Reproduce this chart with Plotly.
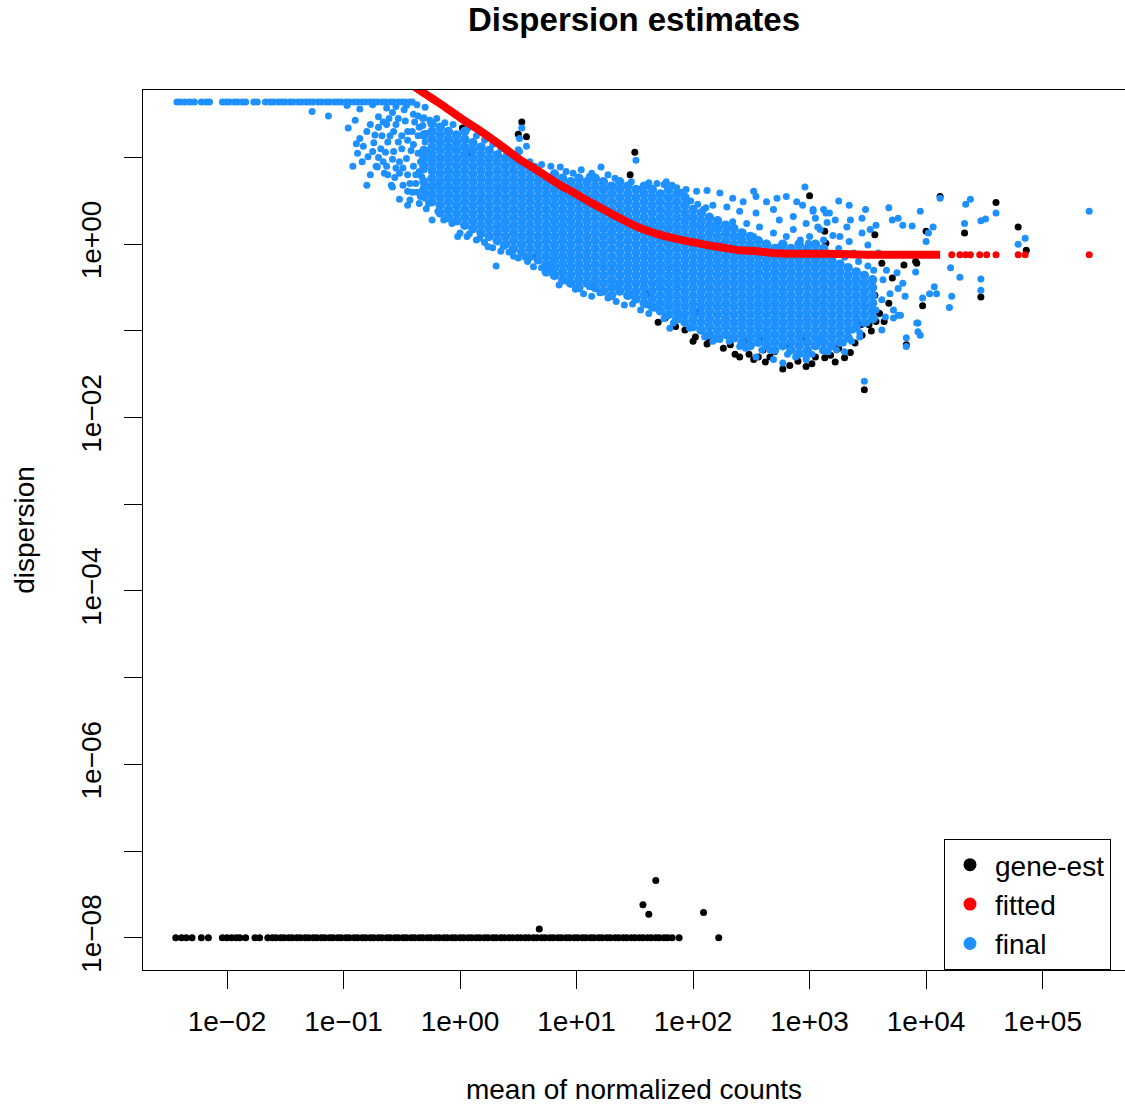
import numpy as np
import plotly.graph_objects as go

# ---------------- data (log10 of mean of normalized counts, log10 of dispersion) ----------------
# tick positions / labels
x_tick_vals = [1e-2, 1e-1, 1e0, 1e1, 1e2, 1e3, 1e4, 1e5]
x_tick_text = ["1e\u221202", "1e\u221201", "1e+00", "1e+01", "1e+02", "1e+03", "1e+04", "1e+05"]
y_tick_vals = [1e1, 1e0, 1e-1, 1e-2, 1e-3, 1e-4, 1e-5, 1e-6, 1e-7, 1e-8]
y_tick_text = ["", "1e+00", "", "1e\u221202", "", "1e\u221204", "", "1e\u221206", "", "1e\u221208"]

# gene-est: genes sitting at the lower dispersion bound (1e-08)
geneest_floor_mean_log10 = [
    -2.44, -2.39, -2.35, -2.30, -2.22, -2.16, -2.04, -2.00, -1.96, -1.92, -1.89, -1.84, -1.76, -1.72,
    -1.65, -1.61, -1.58, -1.54, -1.51, -1.47, -1.44, -1.40, -1.37, -1.33, -1.30, -1.26, -1.23, -1.19,
    -1.16, -1.12, -1.09, -1.05, -1.02, -0.98, -0.95, -0.91, -0.88, -0.84, -0.81, -0.77, -0.74, -0.70,
    -0.67, -0.63, -0.60, -0.56, -0.53, -0.49, -0.46, -0.42, -0.39, -0.35, -0.32, -0.28, -0.25, -0.21,
    -0.18, -0.14, -0.11, -0.07, -0.04, 0.00, 0.03, 0.07, 0.10, 0.14, 0.17, 0.21, 0.24, 0.28, 0.31,
    0.35, 0.38, 0.42, 0.45, 0.49, 0.52, 0.56, 0.59, 0.63, 0.66, 0.70, 0.73, 0.77, 0.80, 0.84, 0.87,
    0.91, 0.94, 0.98, 1.01, 1.05, 1.08, 1.12, 1.15, 1.19, 1.22, 1.26, 1.29, 1.33, 1.36, 1.40, 1.43,
    1.47, 1.50, 1.54, 1.57, 1.61, 1.64, 1.68, 1.71, 1.75, 1.78, 1.82, 1.88, 2.22,
]
geneest_floor_disp_log10 = [
    -8.0, -8.0, -8.0, -8.0, -8.0, -8.0, -8.0, -8.0, -8.0, -8.0, -8.0, -8.0, -8.0, -8.0,
    -8.0, -8.0, -8.0, -8.0, -8.0, -8.0, -8.0, -8.0, -8.0, -8.0, -8.0, -8.0, -8.0, -8.0,
    -8.0, -8.0, -8.0, -8.0, -8.0, -8.0, -8.0, -8.0, -8.0, -8.0, -8.0, -8.0, -8.0, -8.0,
    -8.0, -8.0, -8.0, -8.0, -8.0, -8.0, -8.0, -8.0, -8.0, -8.0, -8.0, -8.0, -8.0, -8.0,
    -8.0, -8.0, -8.0, -8.0, -8.0, -8.0, -8.0, -8.0, -8.0, -8.0, -8.0, -8.0, -8.0, -8.0, -8.0,
    -8.0, -8.0, -8.0, -8.0, -8.0, -8.0, -8.0, -8.0, -8.0, -8.0, -8.0, -8.0, -8.0, -8.0, -8.0, -8.0,
    -8.0, -8.0, -8.0, -8.0, -8.0, -8.0, -8.0, -8.0, -8.0, -8.0, -8.0, -8.0, -8.0, -8.0, -8.0, -8.0,
    -8.0, -8.0, -8.0, -8.0, -8.0, -8.0, -8.0, -8.0, -8.0, -8.0, -8.0, -8.0, -8.0,
]

# gene-est: other visible gene-wise estimates (mean, dispersion)
geneest_other_log10 = [
    (0.68, -7.90), (1.57, -7.62), (1.62, -7.73), (1.68, -7.34), (2.09, -7.71),
    (2.02, -1.07), (2.36, -1.27), (2.48, -1.27), (2.56, -1.30), (2.77, -1.44), (2.97, -1.41),
    (3.13, -1.31), (3.30, -1.31), (3.47, -1.68), (2.22, -1.08), (2.70, -1.24), (2.94, -1.08),
    (3.08, -1.12), (3.25, -1.20), (3.39, -1.14), (3.44, -0.93), (3.51, -0.93), (3.57, -0.89),
    (3.64, -0.89), (3.83, -1.16), (3.56, -0.59), (3.71, -0.39), (3.62, -0.22), (3.92, -0.22),
    (3.81, -0.24), (3.97, -0.71), (4.47, -0.61), (4.33, 0.13), (4.79, 0.20), (4.86, -0.07),
    (4.60, 0.48), (3.00, 0.56), (4.12, 0.55), (4.00, 0.15), (3.56, 0.11), (3.91, -0.20),
    (1.50, 1.06), (0.66, -0.13), (2.02, -0.78), (1.61, -0.58), (1.44, -0.50), (2.46, -1.12),
    (2.83, -1.16), (2.57, -1.10), (2.32, -1.16), (2.14, -1.10), (1.93, -0.99), (1.76, -0.85),
    (0.53, 1.41), (0.50, 1.27), (0.57, 1.24), (0.09, 1.05), (0.02, 1.34), (1.46, 0.80),
    (1.61, 0.68), (3.13, 0.15), (3.14, 0.01),
    (2.26, -1.20), (2.40, -1.30), (2.52, -1.33), (2.62, -1.36), (2.66, -1.30), (2.83, -1.40),
    (2.90, -1.35), (3.02, -1.38), (3.05, -1.30), (3.18, -1.28), (3.22, -1.36), (3.35, -1.25),
    (2.60, -1.22), (2.12, -1.15), (2.00, -1.12), (1.85, -0.95), (1.70, -0.90), (3.45, -1.05),
    (3.53, -1.00), (3.60, -0.80), (3.68, -0.68),
]

# final: genes at the upper dispersion bound
final_top_mean_log10 = [
    -2.43, -2.40, -2.36, -2.32, -2.28, -2.22, -2.18, -2.15, -2.04, -2.01, -1.98, -1.94, -1.91,
    -1.87, -1.84, -1.77, -1.74, -1.67, -1.63, -1.60, -1.56, -1.53, -1.50, -1.46, -1.43, -1.39,
    -1.36, -1.32, -1.29, -1.26, -1.22, -1.19, -1.15, -1.12, -1.08, -1.05, -1.02, -0.98, -0.95,
    -0.91, -0.88, -0.84, -0.81, -0.77, -0.74, -0.71, -0.67, -0.64, -0.60, -0.57, -0.53, -0.50,
    -0.47, -0.43, -0.41,
]
final_top_disp_log10 = [
    1.64, 1.64, 1.64, 1.64, 1.64, 1.64, 1.64, 1.64, 1.64, 1.64, 1.64, 1.64, 1.64,
    1.64, 1.64, 1.64, 1.64, 1.64, 1.64, 1.64, 1.64, 1.64, 1.64, 1.64, 1.64, 1.64,
    1.64, 1.64, 1.64, 1.64, 1.64, 1.64, 1.64, 1.64, 1.64, 1.64, 1.64, 1.64, 1.64,
    1.64, 1.64, 1.64, 1.64, 1.64, 1.64, 1.64, 1.64, 1.64, 1.64, 1.64, 1.64, 1.64,
    1.64, 1.64, 1.64,
]

# final: dense part of the cloud, read column by column (mean, [dispersions])
final_core_log10 = [
    (-0.31, [1.26, 1.08, 0.99, 0.90, 0.72, 0.63]),
    (-0.24, [1.39, 1.30, 1.21, 1.12, 1.03, 0.94, 0.85, 0.76, 0.67, 0.58, 0.49]),
    (-0.17, [1.35, 1.26, 1.17, 1.08, 0.99, 0.90, 0.81, 0.72, 0.63, 0.54, 0.45, 0.36]),
    (-0.10, [1.30, 1.21, 1.12, 1.03, 0.94, 0.85, 0.76, 0.67, 0.58, 0.49, 0.40, 0.31]),
    (-0.03, [1.26, 1.17, 1.08, 0.99, 0.90, 0.81, 0.72, 0.63, 0.54, 0.45, 0.36, 0.27]),
    (0.04, [1.30, 1.21, 1.12, 1.03, 0.94, 0.85, 0.76, 0.67, 0.58, 0.49, 0.40, 0.31, 0.22]),
    (0.11, [1.17, 1.08, 0.99, 0.90, 0.81, 0.72, 0.63, 0.54, 0.45, 0.36, 0.27, 0.18]),
    (0.18, [1.12, 1.03, 0.94, 0.85, 0.76, 0.67, 0.58, 0.49, 0.40, 0.31, 0.22, 0.13]),
    (0.25, [1.08, 0.99, 0.90, 0.81, 0.72, 0.63, 0.54, 0.45, 0.36, 0.27, 0.18, 0.09]),
    (0.32, [1.03, 0.94, 0.85, 0.76, 0.67, 0.58, 0.49, 0.40, 0.31, 0.22, 0.13, 0.04]),
    (0.39, [0.99, 0.90, 0.81, 0.72, 0.63, 0.54, 0.45, 0.36, 0.27, 0.18, 0.09, 0.00]),
    (0.46, [0.94, 0.85, 0.76, 0.67, 0.58, 0.49, 0.40, 0.31, 0.22, 0.13, 0.04, -0.05]),
    (0.53, [0.90, 0.81, 0.72, 0.63, 0.54, 0.45, 0.36, 0.27, 0.18, 0.09, 0.00, -0.09]),
    (0.60, [0.85, 0.76, 0.67, 0.58, 0.49, 0.40, 0.31, 0.22, 0.13, 0.04, -0.05, -0.14]),
    (0.67, [0.81, 0.72, 0.63, 0.54, 0.45, 0.36, 0.27, 0.18, 0.09, 0.00, -0.09, -0.18]),
    (0.74, [0.76, 0.67, 0.58, 0.49, 0.40, 0.31, 0.22, 0.13, 0.04, -0.05, -0.14, -0.23, -0.32]),
    (0.81, [0.81, 0.72, 0.63, 0.54, 0.45, 0.36, 0.27, 0.18, 0.09, 0.00, -0.09, -0.18, -0.27, -0.36]),
    (0.88, [0.76, 0.67, 0.58, 0.49, 0.40, 0.31, 0.22, 0.13, 0.04, -0.05, -0.14, -0.23, -0.32, -0.41]),
    (0.95, [0.72, 0.63, 0.54, 0.45, 0.36, 0.27, 0.18, 0.09, 0.00, -0.09, -0.18, -0.27, -0.36, -0.45]),
    (1.02, [0.76, 0.67, 0.58, 0.49, 0.40, 0.31, 0.22, 0.13, 0.04, -0.05, -0.14, -0.23, -0.32, -0.41, -0.50]),
    (1.09, [0.72, 0.63, 0.54, 0.45, 0.36, 0.27, 0.18, 0.09, 0.00, -0.09, -0.18, -0.27, -0.36, -0.45]),
    (1.16, [0.76, 0.67, 0.58, 0.49, 0.40, 0.31, 0.22, 0.13, 0.04, -0.05, -0.14, -0.23, -0.32, -0.41, -0.50]),
    (1.23, [0.72, 0.63, 0.54, 0.45, 0.36, 0.27, 0.18, 0.09, 0.00, -0.09, -0.18, -0.27, -0.36, -0.45, -0.54]),
    (1.30, [0.67, 0.58, 0.49, 0.40, 0.31, 0.22, 0.13, 0.04, -0.05, -0.14, -0.23, -0.32, -0.41, -0.50, -0.59]),
    (1.37, [0.72, 0.63, 0.54, 0.45, 0.36, 0.27, 0.18, 0.09, 0.00, -0.09, -0.18, -0.27, -0.36, -0.45, -0.54]),
    (1.44, [0.67, 0.58, 0.49, 0.40, 0.31, 0.22, 0.13, 0.04, -0.05, -0.14, -0.23, -0.32, -0.41, -0.50, -0.59]),
    (1.51, [0.63, 0.54, 0.45, 0.36, 0.27, 0.18, 0.09, 0.00, -0.09, -0.18, -0.27, -0.36, -0.45, -0.54, -0.63]),
    (1.58, [0.67, 0.58, 0.49, 0.40, 0.31, 0.22, 0.13, 0.04, -0.05, -0.14, -0.23, -0.32, -0.41, -0.50, -0.59, -0.68]),
    (1.65, [0.63, 0.54, 0.45, 0.36, 0.27, 0.18, 0.09, 0.00, -0.09, -0.18, -0.27, -0.36, -0.45, -0.54, -0.63, -0.72]),
    (1.72, [0.58, 0.49, 0.40, 0.31, 0.22, 0.13, 0.04, -0.05, -0.14, -0.23, -0.32, -0.41, -0.50, -0.59, -0.68, -0.77]),
    (1.79, [0.63, 0.54, 0.45, 0.36, 0.27, 0.18, 0.09, 0.00, -0.09, -0.18, -0.27, -0.36, -0.45, -0.54, -0.63, -0.72, -0.81]),
    (1.86, [0.58, 0.49, 0.40, 0.31, 0.22, 0.13, 0.04, -0.05, -0.14, -0.23, -0.32, -0.41, -0.50, -0.59, -0.68, -0.77, -0.86]),
    (1.93, [0.54, 0.45, 0.36, 0.27, 0.18, 0.09, 0.00, -0.09, -0.18, -0.27, -0.36, -0.45, -0.54, -0.63, -0.72, -0.81, -0.90]),
    (2.00, [0.40, 0.31, 0.22, 0.13, 0.04, -0.05, -0.14, -0.23, -0.32, -0.41, -0.50, -0.59, -0.68, -0.77, -0.86, -0.95]),
    (2.07, [0.36, 0.27, 0.18, 0.09, 0.00, -0.09, -0.18, -0.27, -0.36, -0.45, -0.54, -0.63, -0.72, -0.81, -0.90, -0.99]),
    (2.14, [0.31, 0.22, 0.13, 0.04, -0.05, -0.14, -0.23, -0.32, -0.41, -0.50, -0.59, -0.68, -0.77, -0.86, -0.95, -1.04]),
    (2.21, [0.27, 0.18, 0.09, 0.00, -0.09, -0.18, -0.27, -0.36, -0.45, -0.54, -0.63, -0.72, -0.81, -0.90, -0.99, -1.08]),
    (2.28, [0.22, 0.13, 0.04, -0.05, -0.14, -0.23, -0.32, -0.41, -0.50, -0.59, -0.68, -0.77, -0.86, -0.95, -1.04]),
    (2.35, [0.18, 0.09, 0.00, -0.09, -0.18, -0.27, -0.36, -0.45, -0.54, -0.63, -0.72, -0.81, -0.90, -0.99, -1.08]),
    (2.42, [0.13, 0.04, -0.05, -0.14, -0.23, -0.32, -0.41, -0.50, -0.59, -0.68, -0.77, -0.86, -0.95, -1.04, -1.13]),
    (2.49, [0.09, 0.00, -0.09, -0.18, -0.27, -0.36, -0.45, -0.54, -0.63, -0.72, -0.81, -0.90, -0.99, -1.08, -1.17]),
    (2.56, [0.04, -0.05, -0.14, -0.23, -0.32, -0.41, -0.50, -0.59, -0.68, -0.77, -0.86, -0.95, -1.04, -1.13]),
    (2.63, [0.00, -0.09, -0.18, -0.27, -0.36, -0.45, -0.54, -0.63, -0.72, -0.81, -0.90, -0.99, -1.08, -1.17]),
    (2.70, [-0.05, -0.14, -0.23, -0.32, -0.41, -0.50, -0.59, -0.68, -0.77, -0.86, -0.95, -1.04, -1.13, -1.22]),
    (2.77, [0.00, -0.09, -0.18, -0.27, -0.36, -0.45, -0.54, -0.63, -0.72, -0.81, -0.90, -0.99, -1.08, -1.17]),
    (2.84, [-0.05, -0.14, -0.23, -0.32, -0.41, -0.50, -0.59, -0.68, -0.77, -0.86, -0.95, -1.04, -1.13, -1.22]),
    (2.91, [0.00, -0.09, -0.18, -0.27, -0.36, -0.45, -0.54, -0.63, -0.72, -0.81, -0.90, -0.99, -1.08, -1.17, -1.26]),
    (2.98, [-0.05, -0.14, -0.23, -0.32, -0.41, -0.50, -0.59, -0.68, -0.77, -0.86, -0.95, -1.04, -1.13, -1.22]),
    (3.05, [0.00, -0.09, -0.18, -0.27, -0.36, -0.45, -0.54, -0.63, -0.72, -0.81, -0.90, -0.99, -1.08, -1.17]),
    (3.12, [-0.05, -0.14, -0.23, -0.32, -0.41, -0.50, -0.59, -0.68, -0.77, -0.86, -0.95, -1.04, -1.13, -1.22]),
    (3.19, [-0.18, -0.27, -0.36, -0.45, -0.54, -0.63, -0.72, -0.81, -0.90, -0.99, -1.08, -1.17]),
    (3.26, [-0.23, -0.32, -0.41, -0.50, -0.59, -0.68, -0.77, -0.86, -0.95, -1.04, -1.13]),
    (3.33, [-0.27, -0.36, -0.45, -0.54, -0.63, -0.72, -0.81, -0.90, -0.99, -1.08]),
    (3.40, [-0.32, -0.41, -0.50, -0.59, -0.68, -0.77, -0.86, -0.95]),
    (3.47, [-0.36, -0.45, -0.54, -0.63, -0.72, -0.81, -0.90]),
    (3.54, [-0.41, -0.50, -0.59, -0.68, -0.77, -0.86]),
]

# final: scattered genes around the dense cloud (mean, dispersion)
final_scatter_log10 = [
    (-1.27, 1.53), (-1.13, 1.48), (-0.97, 1.60), (-0.86, 1.56), (-0.75, 1.61), (-0.63, 1.57),
    (-0.55, 1.59), (-0.46, 1.60), (-0.37, 1.61), (-0.30, 1.58),
    (-0.96, 1.34), (-0.90, 1.43), (-0.86, 1.22), (-0.89, 1.16), (-0.92, 0.90), (-0.80, 0.68),
    (-0.83, 1.13), (-0.79, 1.01), (-0.75, 1.07), (-0.73, 1.26), (-0.77, 1.38), (-0.70, 1.47),
    (-0.66, 1.41), (-0.72, 0.90), (-0.66, 0.95), (-0.59, 0.68), (-0.57, 1.07), (-0.62, 1.18),
    (-0.57, 1.30), (-0.53, 1.45), (-0.49, 0.68), (-0.52, 0.82), (-0.45, 0.61), (-0.43, 0.51),
    (-0.46, 0.99), (-0.40, 1.15), (-0.35, 0.84), (-0.39, 1.41), (-0.32, 1.45), (-0.29, 1.28),
    (-0.25, 1.07), (-0.23, 0.68), (-0.29, 0.57), (-0.24, 0.28), (-0.17, 0.45), (-0.63, 1.38),
    (-0.65, 0.82), (-0.45, 1.30), (-0.45, 1.20), (-0.42, 1.08), (-0.40, 0.90), (-0.45, 0.80),
    (-0.38, 0.70), (-0.40, 1.50), (-0.36, 1.25), (-0.50, 1.10), (-0.52, 0.95), (-0.55, 1.38),
    (-0.60, 1.25), (-0.68, 1.10), (-0.70, 1.00), (-0.62, 0.80), (-0.80, 1.30), (-0.58, 1.52),
    (-0.48, 1.55),
    (-0.36, 1.05), (-0.34, 0.95), (-0.37, 0.60), (-0.35, 1.35), (-0.41, 1.30), (-0.43, 0.70),
    (-0.47, 1.42), (-0.50, 1.25), (-0.53, 1.18), (-0.55, 0.88), (-0.58, 0.98), (-0.61, 1.45),
    (-0.64, 1.06), (-0.67, 1.25), (-0.70, 1.35), (-0.74, 1.17), (-0.77, 0.80), (-0.84, 0.95),
    (-0.88, 1.05), (-0.38, 0.80), (-0.41, 0.60), (-0.34, 0.55), (-0.36, 1.48), (-0.49, 0.88),
    (-0.56, 0.77), (-0.31, 1.46), (-0.30, 0.53), (-0.27, 0.47), (-0.26, 1.43),
    (-0.32, 1.37), (-0.30, 1.18), (-0.33, 0.78), (-0.29, 0.67), (-0.31, 0.86), (-0.28, 1.00),
    (-0.71, 0.89), (-0.63, 0.90), (-0.58, 0.66), (-0.52, 0.52), (-0.45, 0.45), (-0.35, 0.47),
    (-0.29, 0.41), (-0.19, 0.38), (-0.07, 0.24), (-0.02, 0.09), (0.06, 0.09), (0.17, 0.07),
    (0.24, -0.03), (0.31, -0.25), (0.37, -0.03), (0.46, -0.14), (0.58, -0.20), (0.76, -0.24),
    (0.80, -0.30), (0.93, -0.44), (1.11, -0.49), (0.77, -0.28), (1.20, -0.56), (1.36, -0.49),
    (1.46, -0.58), (1.60, -0.70), (1.67, -0.74), (1.80, -0.97), (1.89, -0.82), (2.06, -0.99),
    (2.23, -1.10), (2.40, -1.18), (2.54, -1.30), (2.69, -1.33), (2.77, -1.37), (2.97, -1.33),
    (3.12, -1.22), (3.47, -1.58), (3.30, -1.24), (3.56, -0.85), (3.62, -0.99), (3.83, -1.08),
    (3.93, -1.01), (3.93, -0.91), (3.76, -0.82),
    (-0.14, 0.28), (0.00, 0.13), (0.08, 0.12), (0.14, 0.05), (0.21, 0.02), (0.28, -0.04),
    (0.35, -0.08), (0.42, -0.09), (0.50, -0.16), (0.56, -0.15), (0.63, -0.26), (0.70, -0.27),
    (0.85, -0.47), (0.99, -0.52), (1.06, -0.57), (1.13, -0.60), (1.27, -0.62), (1.34, -0.66),
    (1.41, -0.70), (1.48, -0.69), (1.55, -0.76), (1.62, -0.80), (1.75, -0.86), (1.83, -0.91),
    (1.97, -0.97), (2.10, -1.07), (2.17, -1.12), (2.31, -1.12), (2.45, -1.20), (2.59, -1.22),
    (2.66, -1.22), (2.81, -1.27), (2.88, -1.30), (3.02, -1.27), (3.16, -1.24), (3.36, -1.12),
    (3.43, -1.02),
    (-0.20, 1.45), (-0.13, 1.40), (-0.06, 1.38), (0.07, 1.34), (0.14, 1.25), (0.21, 1.20),
    (0.28, 1.15), (0.35, 1.10), (0.43, 1.02), (0.64, 0.90), (0.97, 0.82), (1.13, 0.82),
    (1.27, 0.80), (1.33, 0.76), (1.47, 0.72), (1.62, 0.71), (1.75, 0.69), (1.82, 0.68),
    (1.90, 0.60), (1.98, 0.50), (2.04, 0.46), (2.11, 0.42),
    (0.53, 1.34), (0.57, 1.13), (0.50, 1.09), (0.51, 1.22), (0.51, 1.07), (1.51, 0.97),
    (0.86, 0.89), (0.91, 0.84), (1.04, 0.86), (1.21, 0.89), (1.11, 0.78), (1.37, 0.70),
    (1.54, 0.63), (1.69, 0.70), (1.77, 0.72), (1.86, 0.65), (1.94, 0.63), (2.03, 0.61),
    (2.12, 0.62), (2.23, 0.59), (2.34, 0.53), (2.43, 0.49), (2.52, 0.61), (2.54, 0.55),
    (2.63, 0.49), (2.72, 0.53), (2.80, 0.55), (2.89, 0.49), (2.96, 0.66), (3.03, 0.40),
    (3.14, 0.36), (2.69, 0.40), (2.54, 0.36), (2.40, 0.38), (2.29, 0.43), (2.17, 0.45),
    (2.09, 0.40), (2.74, 0.28), (2.86, 0.32), (2.97, 0.24), (3.09, 0.17), (2.57, 0.20),
    (2.46, 0.24), (2.34, 0.26), (2.69, 0.13), (2.80, 0.09), (2.92, 0.05), (3.12, 0.05),
    (3.00, 0.09), (2.86, 0.17), (2.52, 0.09), (2.63, 0.01), (2.74, -0.03), (2.29, 0.17),
    (2.40, 0.09), (2.17, 0.20), (2.06, 0.24), (1.94, 0.32),
    (0.60, 0.95), (0.70, 0.92), (0.78, 0.90), (0.46, 1.02), (0.40, 1.06),
    (3.25, 0.50), (3.34, 0.45), (3.48, 0.40), (3.68, 0.42), (3.71, 0.28), (3.76, 0.30),
    (3.80, 0.22), (3.88, 0.21), (3.95, 0.38), (4.06, 0.20), (4.12, 0.53), (4.00, 0.03),
    (4.02, 0.13), (4.34, 0.46), (4.38, 0.52), (4.33, 0.24), (4.47, 0.27), (4.51, 0.29),
    (4.60, 0.36), (4.79, 0.00), (4.85, 0.07), (5.40, 0.38), (4.21, -0.27), (4.29, -0.38),
    (4.47, -0.40), (4.47, -0.53), (4.03, -0.57), (4.07, -0.49), (4.09, -0.57), (4.22, -0.60),
    (4.20, -0.73), (3.97, -0.62), (3.92, -0.91), (3.95, -1.05), (3.83, -1.18), (3.78, -0.82),
    (3.72, -0.85), (3.91, -0.32), (3.82, -0.60),
    (3.26, 0.09), (3.34, 0.03), (3.45, 0.13), (3.52, 0.17), (3.57, 0.22), (3.50, -0.01),
    (3.59, -0.10), (3.66, -0.30), (3.63, -0.41), (3.75, -0.33), (3.80, -0.45), (3.76, -0.51),
    (3.69, -0.57), (3.62, -0.64), (3.57, -0.76), (3.65, -0.84), (3.72, -0.76), (3.49, -0.91),
    (3.43, -1.07), (3.37, -0.99), (3.29, -1.14), (3.23, -1.22), (2.97, -1.30), (3.09, -1.10),
    (3.32, 0.20), (3.17, 0.36), (3.12, 0.40), (3.03, 0.38), (2.94, 0.45), (3.07, 0.20),
    (2.99, 0.01), (3.20, 0.10), (3.25, -0.05), (3.38, -0.10), (3.42, -0.20), (3.30, -0.15),
    (3.35, 0.28), (3.15, 0.25), (3.22, 0.28), (3.05, 0.30), (3.50, -0.25), (3.55, -0.30),
    (3.45, 0.30),
]

# fitted: dense part of the fitted trend (mean, dispersion)
fitted_curve_log10 = [
    (-0.52, 1.94), (-0.35, 1.78), (-0.17, 1.62), (0.00, 1.46), (0.17, 1.31), (0.34, 1.15),
    (0.51, 0.98), (0.69, 0.83), (0.86, 0.68), (0.97, 0.60), (1.11, 0.49), (1.26, 0.38),
    (1.40, 0.28), (1.54, 0.19), (1.69, 0.12), (1.83, 0.07), (1.97, 0.03), (2.12, -0.01),
    (2.26, -0.04), (2.40, -0.07), (2.55, -0.08), (2.68, -0.10), (2.92, -0.11), (3.17, -0.11),
    (3.52, -0.12), (3.77, -0.12), (4.12, -0.12),
]
# fitted: isolated high-count genes
fitted_sparse_mean_log10 = [4.22, 4.29, 4.34, 4.38, 4.46, 4.52, 4.60, 4.79, 4.85, 5.40]
fitted_sparse_disp_log10 = [-0.12, -0.12, -0.12, -0.12, -0.12, -0.12, -0.12, -0.12, -0.12, -0.12]

# ---------------- styling ----------------
FONT = "Liberation Sans, Arial, Helvetica, sans-serif"
BLACK = "#000000"
RED = "#FF0000"
BLUE = "#1E90FF"


def pow10(v):
    return list(np.power(10.0, np.asarray(v, dtype=float)))


core_mean, core_disp = [], []
for lx, lys in final_core_log10:
    for ly in lys:
        core_mean.append(lx)
        core_disp.append(ly)

fig = go.Figure()

fig.add_trace(go.Scatter(
    x=pow10(geneest_floor_mean_log10), y=pow10(geneest_floor_disp_log10), mode="markers",
    marker=dict(color=BLACK, size=7, line=dict(width=0)), showlegend=False, hoverinfo="skip"))
fig.add_trace(go.Scatter(
    x=pow10([p[0] for p in geneest_other_log10]), y=pow10([p[1] for p in geneest_other_log10]),
    mode="markers", marker=dict(color=BLACK, size=7, line=dict(width=0)), showlegend=False,
    hoverinfo="skip"))
fig.add_trace(go.Scatter(
    x=pow10(core_mean), y=pow10(core_disp), mode="markers",
    marker=dict(color=BLUE, size=9.5, line=dict(width=0)), showlegend=False, hoverinfo="skip"))
fig.add_trace(go.Scatter(
    x=pow10([p[0] for p in final_scatter_log10]), y=pow10([p[1] for p in final_scatter_log10]),
    mode="markers", marker=dict(color=BLUE, size=7, line=dict(width=0)), showlegend=False,
    hoverinfo="skip"))
fig.add_trace(go.Scatter(
    x=pow10(final_top_mean_log10), y=pow10(final_top_disp_log10), mode="markers",
    marker=dict(color=BLUE, size=7, line=dict(width=0)), showlegend=False, hoverinfo="skip"))
fig.add_trace(go.Scatter(
    x=pow10([p[0] for p in fitted_curve_log10]), y=pow10([p[1] for p in fitted_curve_log10]),
    mode="lines", line=dict(color=RED, width=8, shape="spline"), showlegend=False,
    hoverinfo="skip"))
fig.add_trace(go.Scatter(
    x=pow10(fitted_sparse_mean_log10), y=pow10(fitted_sparse_disp_log10), mode="markers",
    marker=dict(color=RED, size=7, line=dict(width=0)), showlegend=False, hoverinfo="skip"))

# legend entries
for name, col in [("gene-est", BLACK), ("fitted", RED), ("final", BLUE)]:
    fig.add_trace(go.Scatter(x=[None], y=[None], mode="markers", name=name, legendgroup=name,
                             marker=dict(color=col, size=13, line=dict(width=0))))

fig.update_layout(
    width=1125, height=1105,
    margin=dict(l=143, r=0, t=90, b=135, pad=0),
    paper_bgcolor="white", plot_bgcolor="white",
    font=dict(family=FONT, size=28, color="black"),
    title=dict(text="<b>Dispersion estimates</b>", x=0.5, xref="paper", xanchor="center",
               y=1 - 19 / 1105, yref="container", yanchor="middle",
               font=dict(family=FONT, size=33, color="black")),
    showlegend=True,
    legend=dict(x=(944 - 143) / 982, xanchor="left", y=0, yanchor="bottom",
                bordercolor="black", borderwidth=1, bgcolor="white",
                font=dict(family=FONT, size=28, color="black"),
                itemsizing="trace", itemwidth=40, tracegroupgap=0, traceorder="grouped"),
    xaxis=dict(type="log", range=[-2.721, 5.707], tickmode="array",
               tickvals=x_tick_vals, ticktext=x_tick_text,
               ticks="outside", ticklen=18, tickwidth=1, tickcolor="black",
               showline=True, linecolor="black", linewidth=1, mirror=True,
               showgrid=False, zeroline=False, automargin=False, ticklabelstandoff=8,
               tickfont=dict(family=FONT, size=28, color="black"),
               title=dict(text="mean of normalized counts", standoff=43,
                          font=dict(family=FONT, size=28, color="black"))),
    yaxis=dict(type="log", range=[-8.372, 1.779], tickmode="array",
               tickvals=y_tick_vals, ticktext=y_tick_text, tickangle=-90,
               ticks="outside", ticklen=18, tickwidth=1, tickcolor="black",
               showline=True, linecolor="black", linewidth=1, mirror=False,
               showgrid=False, zeroline=False, automargin=False, ticklabelstandoff=12,
               tickfont=dict(family=FONT, size=28, color="black"),
               title=dict(text="dispersion", standoff=32,
                          font=dict(family=FONT, size=28, color="black"))),
)

fig.write_html("out.html", config={"displayModeBar": False},
               post_script="document.body.style.margin='0px';document.body.style.overflow='hidden';")
